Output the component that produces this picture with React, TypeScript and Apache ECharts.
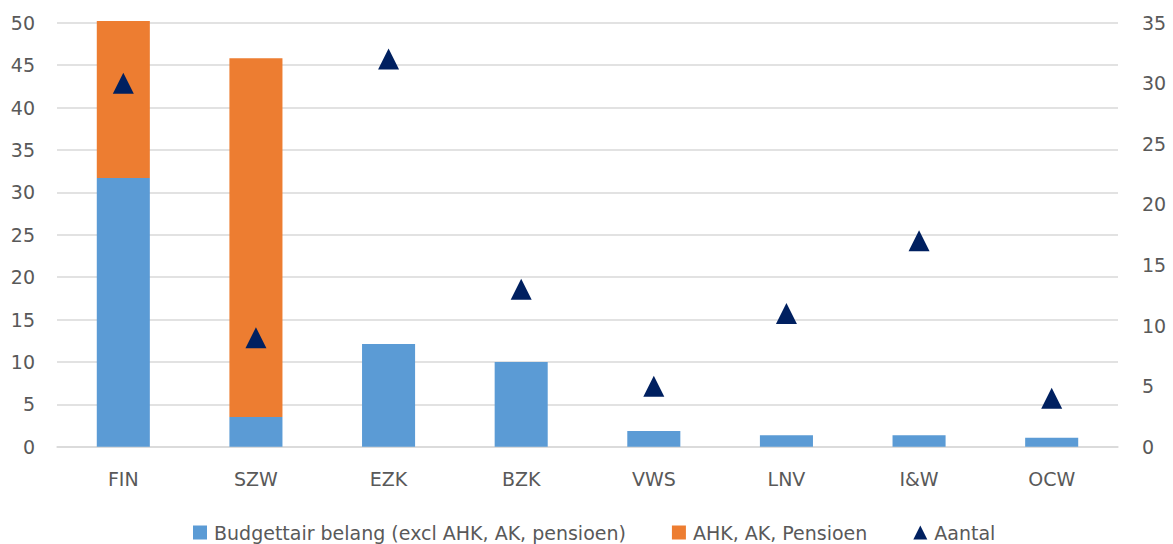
import React, { useEffect, useRef } from "react";
import * as echarts from "echarts";

const categories = ["FIN", "SZW", "EZK", "BZK", "VWS", "LNV", "I&W", "OCW"];
const budgettair = [31.7, 3.5, 12.1, 10.0, 1.85, 1.35, 1.35, 1.05];
const ahk = [18.5, 42.3, 0, 0, 0, 0, 0, 0];
const aantal = [30, 9, 32, 13, 5, 11, 17, 4];
const leftTicks = { min: 0, max: 50, interval: 5 };
const rightTicks = { min: 0, max: 35, interval: 5 };

const FONT = "'DejaVu Sans', sans-serif";
const TEXT = "#595959";
const FS = 19;

export default function App() {
  const ref = useRef<HTMLDivElement>(null);
  useEffect(() => {
    const chart = echarts.init(ref.current!, undefined, { renderer: "svg" });
    chart.setOption({
      animation: false,
      textStyle: { fontFamily: FONT, color: TEXT },
      grid: { left: 57, right: 55, top: 22.7, bottom: 97.3 },
      legend: {
        bottom: -3,
        left: 188,
        itemWidth: 14,
        itemHeight: 14,
        itemGap: 46,
        textStyle: { fontFamily: FONT, fontSize: FS, color: TEXT, padding: [0, 0, 0, 2] },
        data: [
          { name: "Budgettair belang (excl AHK, AK, pensioen)", icon: "rect" },
          { name: "AHK, AK, Pensioen", icon: "rect" },
          { name: "Aantal", icon: "triangle" },
        ],
      },
      xAxis: {
        type: "category",
        data: categories,
        axisLine: { lineStyle: { color: "#d9d9d9", width: 1.5 } },
        axisTick: { show: false },
        axisLabel: { margin: 23, fontSize: FS, color: TEXT, fontFamily: FONT },
      },
      yAxis: [
        {
          type: "value",
          ...leftTicks,
          axisLine: { show: false },
          axisTick: { show: false },
          splitLine: { lineStyle: { color: "#d9d9d9", width: 1.5 } },
          axisLabel: { margin: 22, fontSize: FS, color: TEXT, fontFamily: FONT },
        },
        {
          type: "value",
          ...rightTicks,
          position: "right",
          axisLine: { show: false },
          axisTick: { show: false },
          splitLine: { show: false },
          axisLabel: { margin: 24, fontSize: FS, color: TEXT, fontFamily: FONT },
        },
      ],
      series: [
        {
          name: "Budgettair belang (excl AHK, AK, pensioen)",
          type: "bar",
          stack: "a",
          barWidth: "40%",
          clip: false,
          data: budgettair,
          itemStyle: { color: "#5B9BD5" },
        },
        {
          name: "AHK, AK, Pensioen",
          type: "bar",
          stack: "a",
          barWidth: "40%",
          clip: false,
          data: ahk,
          itemStyle: { color: "#ED7D31" },
        },
        {
          name: "Aantal",
          type: "scatter",
          yAxisIndex: 1,
          symbol: "triangle",
          symbolSize: 21,
          data: aantal,
          itemStyle: { color: "#002060", opacity: 1 },
          z: 5,
        },
      ],
    });
    return () => chart.dispose();
  }, []);
  return (
    <div
      ref={ref}
      style={{ position: "fixed", left: 0, top: 0, width: 1173, height: 544, background: "#fff" }}
    />
  );
}
